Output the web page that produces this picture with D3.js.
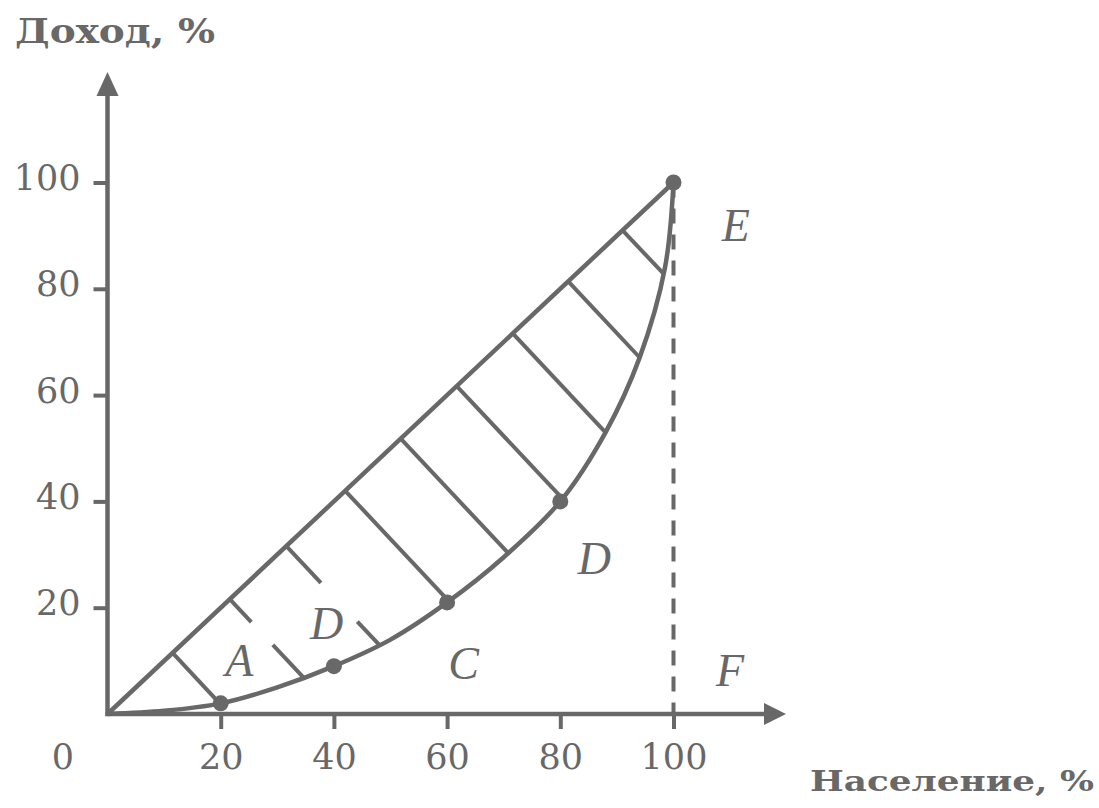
<!DOCTYPE html>
<html>
<head>
<meta charset="utf-8">
<script src="https://cdn.jsdelivr.net/npm/d3@7"></script>
<style>
  body { margin: 0; background: #fff; }
  svg { display: block; }
</style>
</head>
<body>
<div id="chart"></div>
<script>
// données
var xTicks = [20, 40, 60, 80, 100];
var yTicks = [20, 40, 60, 80, 100];
// courbe de Lorenz
var curveX = [0, 10, 20, 30, 40, 50, 60, 70, 80, 88, 94, 98.5, 100];
var curveY = [0, 0.6, 2, 5, 9, 14, 21, 29.5, 40, 53, 67, 84, 100];
// points marqués
var dotX = [20, 40, 60, 80, 100];
var dotY = [2, 9, 21, 40, 100];
// hachures : départ sur la diagonale (x = y)
var hatchT = [11.5, 21.6, 31.6, 42, 51.8, 61.7, 71.6, 81.4, 91];
var hatchGap = [null, [0.29, 0.58], [0.37, 0.76], null, null, null, null, null, null];
// lettres
var labelText = ["A", "D", "C", "D", "E", "F"];
var labelX = [23.3, 38.7, 62.9, 86, 111, 110];
var labelY = [7.2, 14.1, 6.6, 26.3, 89, 5.3];

var W = 1099, H = 808;
var col = "#686868";

var svg = d3.select("#chart").append("svg")
    .attr("width", W)
    .attr("height", H);

var x = d3.scaleLinear().domain([0, 100]).range([107.5, 673.5]);
var y = d3.scaleLinear().domain([0, 100]).range([714, 182.5]);

// axes
var axX = svg.append("g").attr("transform", "translate(0," + y(0) + ")")
    .call(d3.axisBottom(x).tickValues(xTicks).tickSize(15).tickFormat(d3.format("d")));
var axY = svg.append("g").attr("transform", "translate(" + x(0) + ",0)")
    .call(d3.axisLeft(y).tickValues(yTicks).tickSize(14).tickFormat(d3.format("d")));

[axX, axY].forEach(function(a) {
    a.select(".domain").remove();
    a.selectAll(".tick line").attr("stroke", col).attr("stroke-width", 4);
    a.selectAll(".tick text")
        .attr("fill", col)
        .style("font-family", "'DejaVu Serif', serif")
        .style("font-size", "35px");
});
axX.selectAll(".tick text").attr("y", 30).attr("dy", "0.71em");
axY.selectAll(".tick text").attr("x", -27).attr("dy", "0.2em");

// lignes d'axe + flèches
svg.append("line")
    .attr("x1", x(0)).attr("y1", y(0) + 2)
    .attr("x2", x(0)).attr("y2", 92)
    .attr("stroke", col).attr("stroke-width", 4.5);
svg.append("line")
    .attr("x1", x(0) - 2).attr("y1", y(0))
    .attr("x2", 768).attr("y2", y(0))
    .attr("stroke", col).attr("stroke-width", 4.5);
svg.append("path")
    .attr("d", "M" + x(0) + ",72 L" + (x(0) + 11) + ",96 L" + (x(0) - 11) + ",96 Z")
    .attr("fill", col);
svg.append("path")
    .attr("d", "M786," + y(0) + " L764," + (y(0) - 11) + " L764," + (y(0) + 11) + " Z")
    .attr("fill", col);

// 0 à l'origine
svg.append("text")
    .attr("x", 63).attr("y", y(0) + 30).attr("dy", "0.71em")
    .attr("text-anchor", "middle")
    .attr("fill", col)
    .style("font-family", "'DejaVu Serif', serif")
    .style("font-size", "35px")
    .text("0");

// titres
svg.append("text")
    .attr("x", 15).attr("y", 43)
    .attr("fill", col)
    .attr("textLength", 200).attr("lengthAdjust", "spacingAndGlyphs")
    .style("font-family", "'DejaVu Serif', serif")
    .style("font-weight", "bold")
    .style("font-size", "34px")
    .text("Доход, %");
svg.append("text")
    .attr("x", 810).attr("y", 791)
    .attr("fill", col)
    .attr("textLength", 284).attr("lengthAdjust", "spacingAndGlyphs")
    .style("font-family", "'DejaVu Serif', serif")
    .style("font-weight", "bold")
    .style("font-size", "28px")
    .text("Население, %");

// ligne pointillée x = 100
svg.append("line")
    .attr("x1", x(100)).attr("y1", y(100))
    .attr("x2", x(100)).attr("y2", y(0))
    .attr("stroke", col).attr("stroke-width", 4)
    .attr("stroke-dasharray", "15,11");

// diagonale
svg.append("line")
    .attr("x1", x(0)).attr("y1", y(0))
    .attr("x2", x(100)).attr("y2", y(100))
    .attr("stroke", col).attr("stroke-width", 4.5);

// courbe
var pts = curveX.map(function(v, i) { return [v, curveY[i]]; });
var line = d3.line().x(d => x(d[0])).y(d => y(d[1])).curve(d3.curveCatmullRom.alpha(0.5));
var curvePath = svg.append("path")
    .attr("d", line(pts))
    .attr("fill", "none")
    .attr("stroke", col).attr("stroke-width", 4.5);

// échantillonnage de la courbe pour les hachures
var node = curvePath.node();
var len = node.getTotalLength();
var samples = [];
for (var s = 0; s <= len; s += 0.5) {
    var p = node.getPointAtLength(s);
    samples.push([p.x, p.y]);
}
var ox = x(0), oy = y(0);
var dx = x(100) - ox, dy = y(100) - oy;
var dl = Math.sqrt(dx * dx + dy * dy);
dx /= dl; dy /= dl;

hatchT.forEach(function(t, i) {
    var px = x(t), py = y(t);
    var proj = (px - ox) * dx + (py - oy) * dy;
    var best = null, bestErr = 1e9;
    samples.forEach(function(q) {
        var e = Math.abs((q[0] - ox) * dx + (q[1] - oy) * dy - proj);
        if (e < bestErr) { bestErr = e; best = q; }
    });
    var segs = hatchGap[i] ? [[0, hatchGap[i][0]], [hatchGap[i][1], 1]] : [[0, 1]];
    segs.forEach(function(sg) {
        svg.append("line")
            .attr("x1", px + (best[0] - px) * sg[0])
            .attr("y1", py + (best[1] - py) * sg[0])
            .attr("x2", px + (best[0] - px) * sg[1])
            .attr("y2", py + (best[1] - py) * sg[1])
            .attr("stroke", col).attr("stroke-width", 4);
    });
});

// points
svg.selectAll(".dot")
    .data(dotX.map(function(v, i) { return [v, dotY[i]]; }))
    .enter().append("circle")
        .attr("class", "dot")
        .attr("cx", d => x(d[0]))
        .attr("cy", d => y(d[1]))
        .attr("r", 8)
        .attr("fill", col);

// lettres
svg.selectAll(".lab")
    .data(labelText)
    .enter().append("text")
        .attr("class", "lab")
        .attr("x", (d, i) => x(labelX[i]))
        .attr("y", (d, i) => y(labelY[i]))
        .attr("text-anchor", "middle")
        .attr("fill", col)
        .style("font-family", "'Liberation Serif', serif")
        .style("font-style", "italic")
        .style("font-size", "46px")
        .text(d => d);
</script>
</body>
</html>
